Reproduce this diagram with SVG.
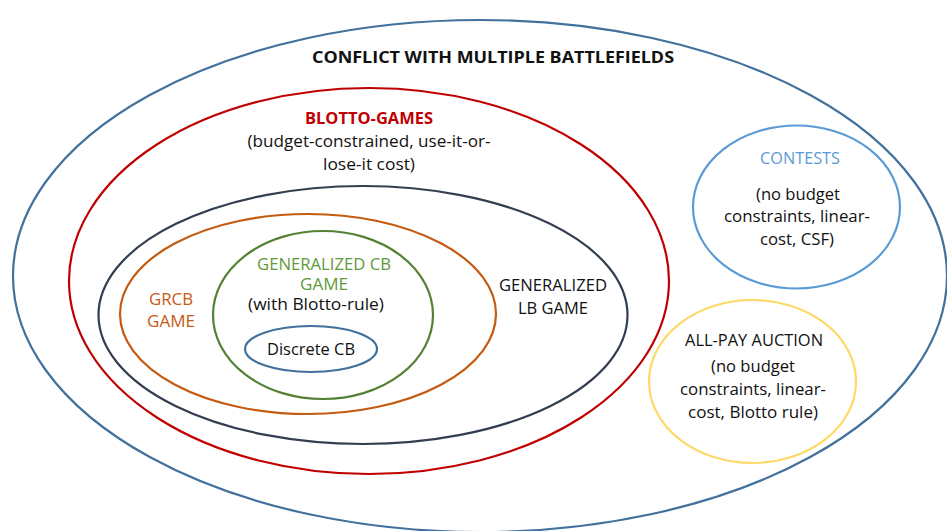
<svg xmlns="http://www.w3.org/2000/svg" width="947" height="531" viewBox="0 0 947 531">
<style>
  ellipse { fill: none; stroke-width: 2.2; }
  text { font-family: "Open Sans", "Liberation Sans", sans-serif; font-size: 16px; text-anchor: middle; fill: #111; }
  .b { font-weight: bold; }
  .red { fill: #C00000; }
  .orange { fill: #C55A11; }
  .green { fill: #5E9A3A; }
  .lblue { fill: #5B9BD5; }
</style>
<rect width="947" height="531" fill="#ffffff"/>
<g id="conflict">
  <ellipse cx="480" cy="276" rx="467" ry="256" stroke="#41719C"/>
  <text class="b" x="493" y="63" font-size="17" textLength="362" lengthAdjust="spacingAndGlyphs">CONFLICT WITH MULTIPLE BATTLEFIELDS</text>
</g>
<g id="blotto">
  <ellipse cx="369" cy="281" rx="300" ry="193" stroke="#C00000"/>
  <text class="b red" x="369" y="124" textLength="128" lengthAdjust="spacingAndGlyphs">BLOTTO-GAMES</text>
  <text x="369" y="147" textLength="243" lengthAdjust="spacingAndGlyphs">(budget-constrained, use-it-or-</text>
  <text x="369" y="170" textLength="92" lengthAdjust="spacingAndGlyphs">lose-it cost)</text>
</g>
<g id="generalized-lb">
  <ellipse cx="363" cy="315" rx="264.5" ry="129" stroke="#333F50"/>
  <text x="553" y="291" textLength="108" lengthAdjust="spacingAndGlyphs">GENERALIZED</text>
  <text x="553" y="314" textLength="70" lengthAdjust="spacingAndGlyphs">LB GAME</text>
</g>
<g id="grcb">
  <ellipse cx="308" cy="314" rx="188" ry="100" stroke="#C55A11"/>
  <text class="orange" x="171" y="305" textLength="44" lengthAdjust="spacingAndGlyphs">GRCB</text>
  <text class="orange" x="171" y="327" textLength="48" lengthAdjust="spacingAndGlyphs">GAME</text>
</g>
<g id="generalized-cb">
  <ellipse cx="323" cy="315" rx="110" ry="84" stroke="#548235"/>
  <text class="green" x="324" y="270" textLength="134" lengthAdjust="spacingAndGlyphs">GENERALIZED CB</text>
  <text class="green" x="324" y="290" textLength="48" lengthAdjust="spacingAndGlyphs">GAME</text>
  <text x="316" y="310" font-size="15.5" textLength="136" lengthAdjust="spacingAndGlyphs">(with Blotto-rule)</text>
</g>
<g id="discrete-cb">
  <ellipse cx="311" cy="349" rx="66" ry="23" stroke="#41719C"/>
  <text x="311" y="355" textLength="88" lengthAdjust="spacingAndGlyphs">Discrete CB</text>
</g>
<g id="contests">
  <ellipse cx="796.5" cy="207" rx="103.5" ry="81.5" stroke="#5B9BD5"/>
  <text class="lblue" x="800" y="164" textLength="80" lengthAdjust="spacingAndGlyphs">CONTESTS</text>
  <text x="798" y="200" textLength="84" lengthAdjust="spacingAndGlyphs">(no budget</text>
  <text x="797" y="222" textLength="146" lengthAdjust="spacingAndGlyphs">constraints, linear-</text>
  <text x="797" y="245" textLength="74" lengthAdjust="spacingAndGlyphs">cost, CSF)</text>
</g>
<g id="all-pay">
  <ellipse cx="752.5" cy="381.5" rx="103.5" ry="81.5" stroke="#FFD966"/>
  <text x="754" y="346" textLength="138" lengthAdjust="spacingAndGlyphs">ALL-PAY AUCTION</text>
  <text x="753" y="372" textLength="84" lengthAdjust="spacingAndGlyphs">(no budget</text>
  <text x="753" y="395" textLength="146" lengthAdjust="spacingAndGlyphs">constraints, linear-</text>
  <text x="753" y="418" textLength="130" lengthAdjust="spacingAndGlyphs">cost, Blotto rule)</text>
</g>
<g id="connectors"/>
</svg>
